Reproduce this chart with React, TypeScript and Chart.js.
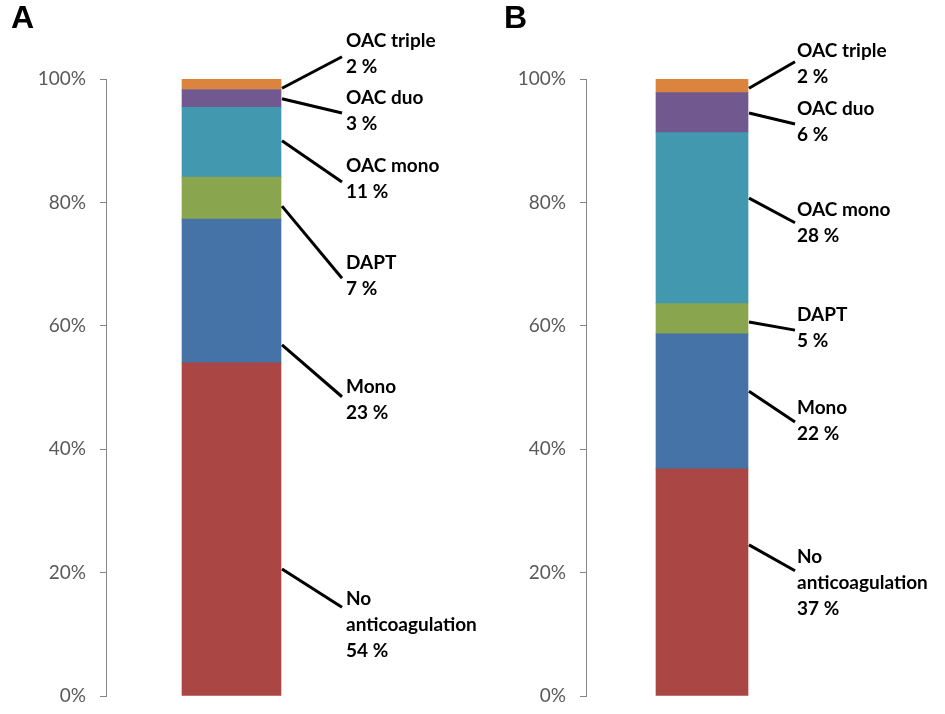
import React, { useEffect, useRef } from 'react';
import { Chart, registerables } from 'chart.js';

Chart.register(...registerables);

// Categories, bottom to top of the stacked bar
const categories = ['No anticoagulation', 'Mono', 'DAPT', 'OAC mono', 'OAC duo', 'OAC triple'];
const labelLines = [['No', 'anticoagulation'], ['Mono'], ['DAPT'], ['OAC mono'], ['OAC duo'], ['OAC triple']];
const colors = ['#AA4643', '#4572A7', '#89A54E', '#4198AF', '#71588F', '#DB843D'];

// Panel A values (%)
const valuesA = [54.0, 23.3, 6.8, 11.3, 2.9, 1.7];
const pctLabelsA = ['54 %', '23 %', '7 %', '11 %', '3 %', '2 %'];
// Panel B values (%)
const valuesB = [36.8, 21.9, 4.9, 27.7, 6.5, 2.2];
const pctLabelsB = ['37 %', '22 %', '5 %', '28 %', '6 %', '2 %'];

// Y axis ticks
const yTicks = [0, 20, 40, 60, 80, 100];

// Leader-line anchors, in axis units (%): start on bar, end at label, first text line
const attachA = [20.6, 56.9, 79.4, 90.0, 96.8, 98.5];
const endA = [14.4, 48.5, 67.7, 83.3, 94.5, 103.6];
const textA = [15.7, 50.1, 70.2, 85.9, 96.9, 106.2];

const attachB = [24.5, 49.4, 60.6, 80.7, 94.5, 98.5];
const endB = [20.3, 44.4, 59.3, 76.7, 92.7, 102.8];
const textB = [22.5, 46.7, 61.8, 78.8, 95.1, 104.5];

type PanelProps = {
  letter: string;
  letterX: number;
  values: number[];
  pctLabels: string[];
  attach: number[];
  ends: number[];
  texts: number[];
  left: number;
  width: number;
  padRight: number;
  barWidth: number;
  leaderDx: number;
  textDx: number;
};

function Panel(p: PanelProps) {
  const ref = useRef<HTMLCanvasElement | null>(null);
  useEffect(() => {
    if (!ref.current) return;
    const labelPlugin = {
      id: 'leaderLabels',
      afterDraw(chart: any) {
        const ctx = chart.ctx as CanvasRenderingContext2D;
        const y = chart.scales.y;
        const bar = chart.getDatasetMeta(0).data[0] as any;
        const barRight = bar.x + bar.width / 2;
        ctx.save();
        ctx.strokeStyle = '#000';
        ctx.lineWidth = 3;
        ctx.lineCap = 'butt';
        for (let i = 0; i < categories.length; i++) {
          ctx.beginPath();
          ctx.moveTo(barRight + 1, y.getPixelForValue(p.attach[i]));
          ctx.lineTo(barRight + p.leaderDx, y.getPixelForValue(p.ends[i]));
          ctx.stroke();
          const lines = [...labelLines[i], p.pctLabels[i]];
          ctx.fillStyle = '#000';
          ctx.font = 'bold 19px Lato';
          ctx.textAlign = 'left';
          ctx.textBaseline = 'middle';
          const ty = y.getPixelForValue(p.texts[i]);
          lines.forEach((ln, j) => {
            ctx.fillText(ln, barRight + p.leaderDx + p.textDx, ty + j * 26);
          });
        }
        ctx.font = 'bold 32px "Liberation Sans"';
        ctx.textBaseline = 'alphabetic';
        ctx.fillText(p.letter, p.letterX, 28);
        ctx.restore();
      },
    };
    const chart = new Chart(ref.current, {
      type: 'bar',
      data: {
        labels: [''],
        datasets: categories.map((c, i) => ({
          label: c,
          data: [p.values[i]],
          backgroundColor: colors[i],
          borderWidth: 0,
          barThickness: p.barWidth,
        })),
      },
      options: {
        responsive: false,
        animation: false,
        layout: { padding: { top: 79, bottom: 18, left: 0, right: p.padRight } },
        plugins: { legend: { display: false }, tooltip: { enabled: false } },
        scales: {
          x: { display: false, stacked: true },
          y: {
            stacked: true,
            min: 0,
            max: 100,
            afterBuildTicks: (scale: any) => {
              scale.ticks = yTicks.map((v) => ({ value: v }));
            },
            afterFit: (scale: any) => {
              scale.width = 106;
              scale.paddingTop = 0;
              scale.paddingBottom = 0;
            },
            ticks: {
              padding: 14,
              color: '#595959',
              font: { family: 'Lato', size: 19 },
              callback: (v: any) => v + '%',
            },
            grid: {
              drawOnChartArea: false,
              drawTicks: true,
              tickLength: 6,
              color: '#868686',
            },
            border: { display: true, color: '#868686', width: 1 },
          },
        },
      },
      plugins: [labelPlugin],
    });
    return () => chart.destroy();
  }, []);
  return (
    <canvas
      ref={ref}
      width={p.width}
      height={714}
      style={{ position: 'absolute', left: p.left, top: 0, width: p.width, height: 714 }}
    />
  );
}

export default function App() {
  return (
    <div style={{ position: 'absolute', left: 0, top: 0, width: 945, height: 714, background: '#fff', overflow: 'hidden' }}>
      <Panel
        letter="A"
        letterX={11}
        values={valuesA}
        pctLabels={pctLabelsA}
        attach={attachA}
        ends={endA}
        texts={textA}
        left={0}
        width={480}
        padRight={123}
        barWidth={99}
        leaderDx={61}
        textDx={4}
        />
      <Panel
        letter="B"
        letterX={24}
        values={valuesB}
        pctLabels={pctLabelsB}
        attach={attachB}
        ends={endB}
        texts={textB}
        left={480}
        width={465}
        padRight={127}
        barWidth={92}
        leaderDx={47}
        textDx={2}
      />
    </div>
  );
}
